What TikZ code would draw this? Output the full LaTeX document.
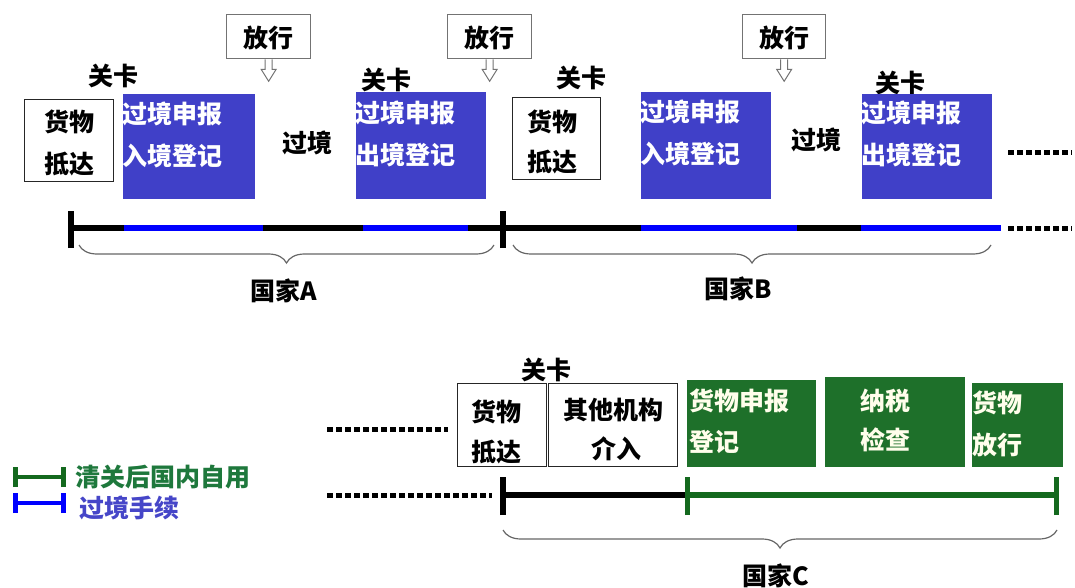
\documentclass[tikz,border=0pt]{standalone}
\usepackage{fontspec}
\setmainfont{Noto Sans CJK SC}
\usetikzlibrary{decorations.pathreplacing}
\definecolor{boxblue}{RGB}{64,64,200}
\definecolor{lineblue}{RGB}{0,0,255}
\definecolor{boxgreen}{RGB}{30,112,42}
\definecolor{linegreen}{RGB}{20,105,30}
\definecolor{legendgreen}{RGB}{30,120,60}
\definecolor{legendblue}{RGB}{70,70,200}
\begin{document}
\begin{tikzpicture}[x=1pt,y=-1pt,
  font=\fontsize{25}{25}\selectfont\bfseries,
  lbl/.style={inner sep=0pt, text height=0.8em, text depth=0.1em, yshift=-6pt},
  wlbl/.style={lbl, text=white},
  glbl/.style={lbl, text=white!92!yellow},
  plainbox/.style={draw=black!85, line width=1.2pt, fill=white, inner sep=0pt, anchor=north west},
  relbox/.style={draw=black!55, line width=1.3pt, fill=white, inner sep=0pt, anchor=north west},
  bluebox/.style={fill=boxblue, inner sep=0pt, anchor=north west},
  greenbox/.style={fill=boxgreen, inner sep=0pt, anchor=north west},
  relarrow/.style={draw=black!55, line width=1pt, fill=white},
  tl/.style={line width=5.5pt},
  tickmark/.style={line width=6pt},
  dots/.style={line width=5pt, dash pattern=on 6pt off 3pt},
  bracestyle/.style={decorate, decoration={brace, mirror, amplitude=18pt}, draw=black!60, line width=1.2pt}
]
\useasboundingbox (0,0) rectangle (1075,588);

% ---------- top row: country A ----------
\node[plainbox, minimum width=89pt, minimum height=82pt] (a1) at (24,99) {};
\node[lbl] (a1t1) at (69,122) {货物};
\node[lbl] (a1t2) at (69,164) {抵达};
\node[lbl] (k1) at (113,76) {关卡};
\node[bluebox, minimum width=132pt, minimum height=105pt] (b1) at (123,94) {};
\node[wlbl, anchor=west] (b1t1) at (122,114) {过境申报};
\node[wlbl, anchor=west] (b1t2) at (122,156) {入境登记};
\node[relbox, minimum width=84pt, minimum height=44pt] (r1) at (226,14) {};
\node[lbl] (r1t) at ([yshift=-1.5pt]r1.center) {放行};
\draw[relarrow] ([xshift=-3.5pt]r1.south) -- ++(0,10) -- ++(-4,0) -- ++(7.5,12) -- ++(7.5,-12) -- ++(-4,0) -- ++(0,-10);
\node[lbl] (g1) at (307,143) {过境};
\node[lbl] (k2) at (386,80) {关卡};
\node[bluebox, minimum width=130pt, minimum height=107pt] (b2) at (356,92) {};
\node[wlbl, anchor=west] (b2t1) at (355,113) {过境申报};
\node[wlbl, anchor=west] (b2t2) at (355,155) {出境登记};
\node[relbox, minimum width=84pt, minimum height=44pt] (r2) at (447,14) {};
\node[lbl] (r2t) at ([yshift=-1.5pt]r2.center) {放行};
\draw[relarrow] ([xshift=-3.5pt]r2.south) -- ++(0,10) -- ++(-4,0) -- ++(7.5,12) -- ++(7.5,-12) -- ++(-4,0) -- ++(0,-10);

% ---------- top row: country B ----------
\node[plainbox, minimum width=88pt, minimum height=82pt] (a2) at (512,97) {};
\node[lbl] (a2t1) at (552,122) {货物};
\node[lbl] (a2t2) at (552,162) {抵达};
\node[lbl] (k3) at (581,78) {关卡};
\node[bluebox, minimum width=130pt, minimum height=107pt] (b3) at (641,92) {};
\node[wlbl, anchor=west] (b3t1) at (640,112) {过境申报};
\node[wlbl, anchor=west] (b3t2) at (640,154) {入境登记};
\node[relbox, minimum width=83pt, minimum height=44pt] (r3) at (742,14) {};
\node[lbl] (r3t) at ([yshift=-1.5pt]r3.center) {放行};
\draw[relarrow] ([xshift=-3.5pt]r3.south) -- ++(0,10) -- ++(-4,0) -- ++(7.5,12) -- ++(7.5,-12) -- ++(-4,0) -- ++(0,-10);
\node[lbl] (g2) at (816,140) {过境};
\node[lbl] (k4) at (900,83) {关卡};
\node[bluebox, minimum width=130pt, minimum height=105pt] (b4) at (862,94) {};
\node[wlbl, anchor=west] (b4t1) at (861,113) {过境申报};
\node[wlbl, anchor=west] (b4t2) at (861,155) {出境登记};
\coordinate (e1) at (1008,153);
\coordinate (e2) at (1072,153);
\draw[dots] (e1) -- (e2);

% ---------- top timeline ----------
\coordinate (t0) at (71,228);
\coordinate (t1) at (124,228);
\coordinate (t2) at (263,228);
\coordinate (t3) at (363,228);
\coordinate (t4) at (468,228);
\coordinate (t5) at (503,228);
\coordinate (t6) at (641,228);
\coordinate (t7) at (797,228);
\coordinate (t8) at (861,228);
\coordinate (t9) at (1001,228);
\coordinate (t10) at (1008,228);
\coordinate (t11) at (1072,228);
\draw[tl, black] (t0) -- (t1);
\draw[tl, lineblue] (t1) -- (t2);
\draw[tl, black] (t2) -- (t3);
\draw[tl, lineblue] (t3) -- (t4);
\draw[tl, black] (t4) -- (t6);
\draw[tl, lineblue] (t6) -- (t7);
\draw[tl, black] (t7) -- (t8);
\draw[tl, lineblue] (t8) -- (t9);
\draw[dots] (t10) -- (t11);
\draw[tickmark] ([yshift=-20pt]t0) -- ([yshift=17pt]t0);
\draw[tickmark] ([yshift=-20pt]t5) -- ([yshift=17pt]t5);

\coordinate (ba0) at (79,245);
\coordinate (ba1) at (494,245);
\coordinate (bb0) at (513,245);
\coordinate (bb1) at (991,245);
\draw[bracestyle] (ba0) -- (ba1);
\draw[bracestyle] (bb0) -- (bb1);
\node[lbl] (na) at (284,291) {国家A};
\node[lbl] (nb) at (738,289) {国家B};

% ---------- bottom: country C ----------
\coordinate (d1) at (327,429);
\coordinate (d2) at (448,429);
\draw[dots] (d1) -- (d2);
\node[lbl] (kc) at (546,370) {关卡};
\node[plainbox, minimum width=89pt, minimum height=83pt] (c1) at (457,383) {};
\node[lbl] (c1t1) at (496,412) {货物};
\node[lbl] (c1t2) at (496,452) {抵达};
\node[plainbox, minimum width=129pt, minimum height=83pt] (c2) at (548,383) {};
\node[lbl] (c2t1) at (613,410) {其他机构};
\node[lbl] (c2t2) at (616,449) {介入};
\node[greenbox, minimum width=129pt, minimum height=87pt] (c3) at (687,380) {};
\node[glbl, anchor=west] (c3t1) at (689,401) {货物申报};
\node[glbl, anchor=west] (c3t2) at (689,442) {登记};
\node[greenbox, minimum width=140pt, minimum height=90pt] (c4) at (825,377) {};
\node[glbl] (c4t1) at (885,401) {纳税};
\node[glbl] (c4t2) at (885,440) {检查};
\node[greenbox, minimum width=91pt, minimum height=84pt] (c5) at (972,383) {};
\node[glbl, anchor=west] (c5t1) at (972,403) {货物};
\node[glbl, anchor=west] (c5t2) at (972,445) {放行};

\coordinate (d3) at (327,495);
\coordinate (d4) at (492,495);
\draw[dots] (d3) -- (d4);
\coordinate (s0) at (503,495);
\coordinate (s1) at (687,495);
\coordinate (s2) at (1056,495);
\draw[tl, black] (s0) -- (s1);
\draw[tl, linegreen] (s1) -- (s2);
\draw[tickmark, black] ([yshift=-20pt]s0) -- ([yshift=18pt]s0);
\draw[line width=5pt, linegreen] ([yshift=-20pt]s1) -- ([yshift=18pt]s1);
\draw[line width=5pt, linegreen] ([yshift=-20pt]s2) -- ([yshift=18pt]s2);
\coordinate (bc0) at (503,530);
\coordinate (bc1) at (1057,530);
\draw[bracestyle] (bc0) -- (bc1);
\node[lbl] (nc) at (776,576) {国家C};

% ---------- legend ----------
\coordinate (lg0) at (15,477);
\coordinate (lg1) at (63,477);
\draw[line width=4pt, linegreen] (lg0) -- (lg1);
\draw[line width=5pt, linegreen] ([yshift=-10pt]lg0) -- ([yshift=10pt]lg0);
\draw[line width=5pt, linegreen] ([yshift=-10pt]lg1) -- ([yshift=10pt]lg1);
\node[lbl, anchor=west, text=legendgreen] (lgt) at (75,477) {清关后国内自用};
\coordinate (lb0) at (15,503);
\coordinate (lb1) at (63,503);
\draw[line width=4pt, lineblue] (lb0) -- (lb1);
\draw[line width=5pt, lineblue] ([yshift=-10pt]lb0) -- ([yshift=10pt]lb0);
\draw[line width=5pt, lineblue] ([yshift=-10pt]lb1) -- ([yshift=10pt]lb1);
\node[lbl, anchor=west, text=legendblue] (lbt) at (79,508) {过境手续};
\end{tikzpicture}
\end{document}
